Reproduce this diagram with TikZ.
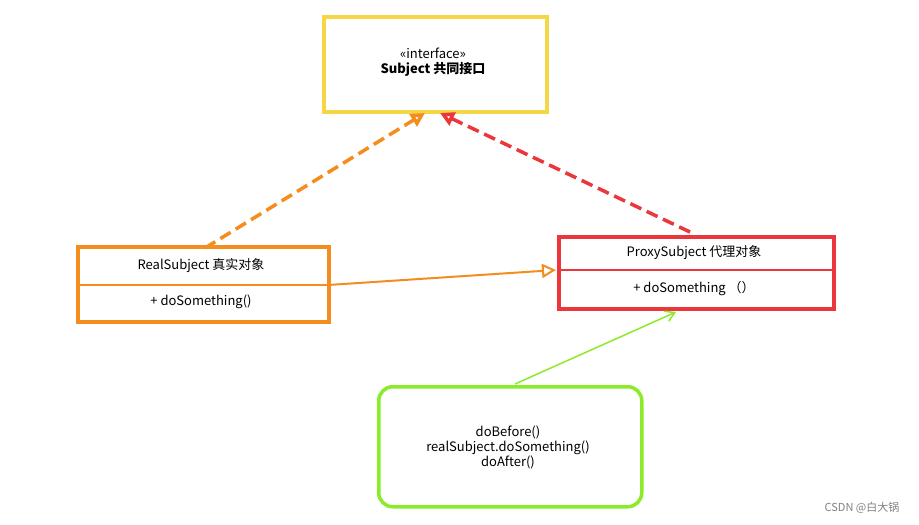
\documentclass[tikz,border=0pt]{standalone}
\usepackage{fontspec}
\setmainfont{Noto Sans CJK SC}
\usetikzlibrary{arrows.meta}
\begin{document}
\begin{tikzpicture}[x=1pt,y=-1pt,
  yel/.style={draw={rgb,255:red,245;green,215;blue,70},line width=4pt},
  org/.style={draw={rgb,255:red,245;green,140;blue,30},line width=3.5pt},
  rd/.style={draw={rgb,255:red,235;green,55;blue,60},line width=3.5pt},
  grn/.style={draw={rgb,255:red,140;green,235;blue,40},line width=3.5pt,rounded corners=14pt},
  txt/.style={font=\fontsize{13}{15}\selectfont,align=center},
  tri/.style={-{Triangle[open,length=14pt,width=14pt]}}]
\useasboundingbox (0,0) rectangle (919,525);
\node[yel,minimum width=223pt,minimum height=95pt,anchor=north west] (iface) at (322,15) {};
\node[txt] (it) at (433,62) {«interface»\\\textbf{Subject 共同接口}};
\node[org,minimum width=251pt,minimum height=75pt,anchor=north west] (real) at (76,245) {};
\draw[org,line width=1.5pt] (76,285) -- (327,285);
\node[txt] at (201,266) {RealSubject 真实对象};
\node[txt] at (201,302) {+ doSomething()};
\node[rd,minimum width=275pt,minimum height=72pt,anchor=north west] (proxy) at (557,235) {};
\draw[rd,line width=1.5pt] (557,270) -- (832,270);
\node[txt] at (694,253) {ProxySubject 代理对象};
\node[txt] at (694,289) {+ doSomething （）};
\node[grn,minimum width=263pt,minimum height=120pt,anchor=north west] (note) at (377,385) {};
\node[txt] at (508,447) {doBefore()\\realSubject.doSomething()\\doAfter()};
\coordinate (a1) at (205,248); \coordinate (a2) at (425,113);
\coordinate (b1) at (690,232); \coordinate (b2) at (440,113);
\draw[org,dashed,dash pattern=on 12pt off 6pt,tri] (a1) -- (a2);
\draw[rd,dashed,dash pattern=on 12pt off 6pt,tri] (b1) -- (b2);
\coordinate (c1) at (328,285); \coordinate (c2) at (556,270);
\draw[org,line width=2pt,tri] (c1) -- (c2);
\coordinate (d1) at (515,384); \coordinate (d2) at (676,312);
\draw[draw={rgb,255:red,140;green,235;blue,40},line width=1.5pt,-{Straight Barb[length=9pt,width=11pt]}] (d1) -- (d2);
\node[font=\fontsize{11}{13}\selectfont,text=gray] (wm) at (862,508) {CSDN @白大锅};
\end{tikzpicture}
\end{document}
